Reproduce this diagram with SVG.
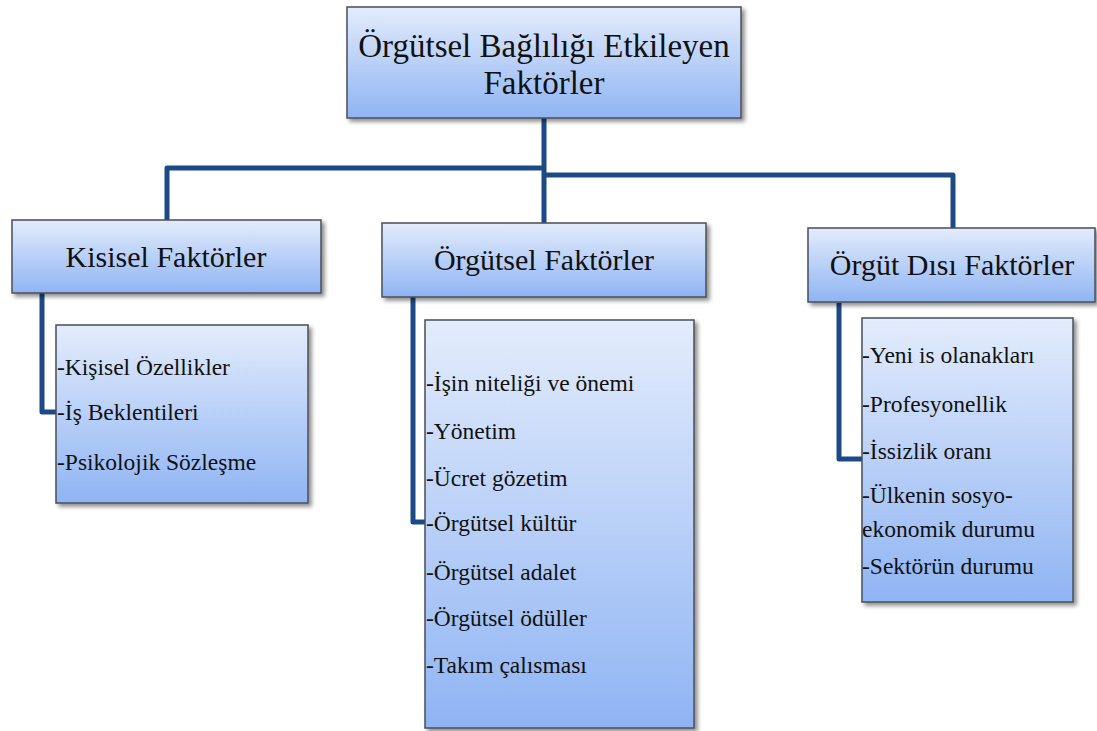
<svg xmlns="http://www.w3.org/2000/svg" width="1097" height="731" viewBox="0 0 1097 731">
<defs>
<linearGradient id="g" x1="0" y1="0" x2="0" y2="1">
<stop offset="0" stop-color="#e3ecfc"/>
<stop offset="1" stop-color="#8fb4f3"/>
</linearGradient>
<filter id="sh" x="-5%" y="-5%" width="115%" height="120%">
<feGaussianBlur in="SourceAlpha" stdDeviation="2"/>
<feOffset dx="3" dy="3"/>
<feComponentTransfer><feFuncA type="linear" slope="0.45"/></feComponentTransfer>
<feMerge><feMergeNode/><feMergeNode in="SourceGraphic"/></feMerge>
</filter>
</defs>
<style>
.box{fill:url(#g);stroke:#4a4f57;stroke-width:1.5;filter:url(#sh)}
text{font-family:'Liberation Serif','DejaVu Serif','Times New Roman',serif;fill:#111}
.h{font-size:33px;text-anchor:middle}
.m{font-size:30px;text-anchor:middle}
.i{font-size:23.5px}
.c{fill:none;stroke:#1d4a86;stroke-width:5;stroke-linejoin:round}
</style>
<g id="connectors">
<path class="c" d="M544,118 V224"/>
<path class="c" d="M544,168 H167 V221"/>
<path class="c" d="M544,175 H953 V229"/>
<path class="c" d="M42,293 V412 H56"/>
<path class="c" d="M413,297 V522 H425"/>
<path class="c" d="M839,303 V459 H862"/>
</g>
<g id="root">
<rect class="box" x="347" y="7" width="394" height="111"/>
<text class="h" x="544" y="57" font-family="Liberation Serif, DejaVu Serif, serif">Örgütsel Bağlılığı Etkileyen</text>
<text class="h" x="544" y="94" font-family="Liberation Serif, DejaVu Serif, serif">Faktörler</text>
</g>
<g id="kisisel">
<rect class="box" x="12" y="220" width="309" height="73"/>
<text class="m" x="166" y="267" font-family="Liberation Serif, DejaVu Serif, serif">Kisisel Faktörler</text>
</g>
<g id="kisisel-list" font-family="Liberation Serif, DejaVu Serif, serif">
<rect class="box" x="56" y="325" width="252" height="178"/>
<text class="i" x="57" y="375">-Kişisel Özellikler</text>
<text class="i" x="57" y="420">-İş Beklentileri</text>
<text class="i" x="57" y="470">-Psikolojik Sözleşme</text>
</g>
<g id="orgutsel">
<rect class="box" x="382" y="223" width="324" height="74"/>
<text class="m" x="544" y="270">Örgütsel Faktörler</text>
</g>
<g id="orgutsel-list">
<rect class="box" x="425" y="320" width="269" height="408"/>
<text class="i" x="426" y="391">-İşin niteliği ve önemi</text>
<text class="i" x="426" y="439">-Yönetim</text>
<text class="i" x="426" y="486">-Ücret gözetim</text>
<text class="i" x="426" y="531">-Örgütsel kültür</text>
<text class="i" x="426" y="580">-Örgütsel adalet</text>
<text class="i" x="426" y="626">-Örgütsel ödüller</text>
<text class="i" x="426" y="673">-Takım çalısması</text>
</g>
<g id="disi">
<rect class="box" x="808" y="228" width="287" height="74"/>
<text class="m" x="952" y="275">Örgüt Dısı Faktörler</text>
</g>
<g id="disi-list">
<rect class="box" x="862" y="318" width="211" height="284"/>
<text class="i" x="862" y="363">-Yeni is olanakları</text>
<text class="i" x="862" y="412">-Profesyonellik</text>
<text class="i" x="862" y="459">-İssizlik oranı</text>
<text class="i" x="862" y="503">-Ülkenin sosyo-</text>
<text class="i" x="862" y="537">ekonomik durumu</text>
<text class="i" x="862" y="574">-Sektörün durumu</text>
</g>
</svg>
